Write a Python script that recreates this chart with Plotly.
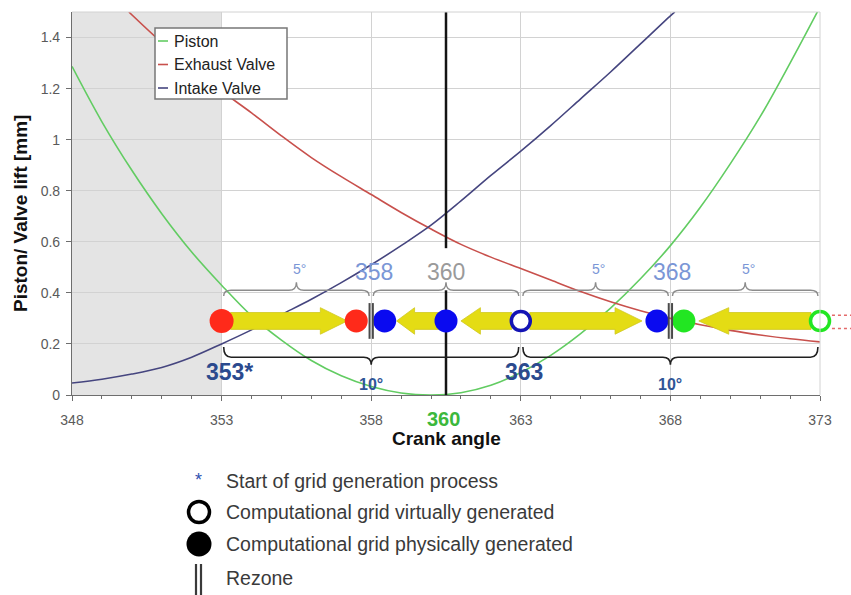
import plotly.graph_objects as go

FONT = "Liberation Sans, Arial, sans-serif"

# ---------------- data ----------------
crank = list(range(348, 374))
piston = [1.287, 1.07, 0.88, 0.71, 0.56, 0.43, 0.31, 0.215, 0.135, 0.075, 0.033, 0.008, 0.0,
          0.009, 0.038, 0.088, 0.155, 0.24, 0.34, 0.455, 0.585, 0.735, 0.905, 1.09, 1.30, 1.52]

exhaust_x = [349.9] + list(range(351, 374))
exhaust = [1.5, 1.38, 1.28, 1.19, 1.105, 1.015, 0.93, 0.855, 0.785, 0.715, 0.65, 0.59, 0.54,
           0.495, 0.45, 0.405, 0.365, 0.33, 0.30, 0.275, 0.253, 0.235, 0.22, 0.208]

intake_x = list(range(348, 369)) + [368.15]
intake = [0.047, 0.062, 0.082, 0.108, 0.148, 0.2, 0.255, 0.315, 0.375, 0.44, 0.51, 0.585, 0.665,
          0.76, 0.86, 0.955, 1.055, 1.16, 1.265, 1.375, 1.485, 1.5]

series_names = ["Piston", "Exhaust Valve", "Intake Valve"]
series_colors = ["#62cc62", "#c8504c", "#45457f"]

# grid-generation events (crank angle)
event_y = 0.29
marker_x = [353, 357.5, 358.45, 360.5, 363, 367.55, 368.45, 373]
marker_color = ["#ff2a1a", "#ff2a1a", "#0a0af0", "#0a0af0", "#1414b4", "#0a0af0", "#22e622", "#22e622"]
marker_filled = [True, True, True, True, False, True, True, False]

arrow_tail = [353.3, 360.3, 362.7, 363.3, 372.7]
arrow_tip = [357.2, 358.85, 361.0, 367.05, 368.95]
arrow_head = [0.9, 0.6, 0.65, 0.9, 1.0]

rezone_x = [358, 368]
tdc_x = 360.5

top_braces = [(353, 358), (358, 363), (363, 368), (368, 373)]
top_brace_labels = ["5°", "", "5°", "5°"]
bottom_braces = [(353, 363), (363, 373)]
bottom_brace_labels = ["10°", "10°"]
start_labels = [(353.25, "353*"), (363.1, "363"), (373.25, "373")]
upper_numbers = [(358.1, "358", "#7a96d6"), (360.5, "360", "#9a9a9a"), (368.05, "368", "#7a96d6")]

legend_items = ["Start of grid generation process",
                "Computational grid virtually generated",
                "Computational grid physically generated",
                "Rezone"]

# ---------------- figure ----------------
fig = go.Figure()

for xs, ys, c in zip([crank, exhaust_x, intake_x], [piston, exhaust, intake], series_colors):
    fig.add_trace(go.Scatter(x=xs, y=ys, mode="lines", line=dict(color=c, width=1.6, shape="spline"),
                             hoverinfo="skip"))

# yellow arrows
h_shaft, h_head = 0.033, 0.052
for t0, t1, hl in zip(arrow_tail, arrow_tip, arrow_head):
    s = 1 if t1 > t0 else -1
    b = t1 - s * hl
    xs = [t0, b, b, t1, b, b, t0, t0]
    ys = [event_y + h_shaft, event_y + h_shaft, event_y + h_head, event_y,
          event_y - h_head, event_y - h_shaft, event_y - h_shaft, event_y + h_shaft]
    fig.add_trace(go.Scatter(x=xs, y=ys, mode="lines", fill="toself", fillcolor="#e4dc14",
                             line=dict(color="#cfc820", width=0.8), hoverinfo="skip"))

# TDC black line (interrupted by label)
fig.add_trace(go.Scatter(x=[tdc_x, tdc_x, None, tdc_x, tdc_x], y=[1.5, 0.575, None, 0.41, 0],
                         mode="lines", line=dict(color="#141414", width=2.5), hoverinfo="skip"))

# event markers
fig.add_trace(go.Scatter(
    x=marker_x, y=[event_y] * len(marker_x), mode="markers", cliponaxis=False, opacity=1,
    marker=dict(symbol="circle", opacity=1,
                size=[24 if i == 0 else (19 if not f else 23) for i, f in enumerate(marker_filled)],
                color=[c if f else "white" for c, f in zip(marker_color, marker_filled)],
                line=dict(color=[c for c in marker_color],
                          width=[0 if f else 3.5 for f in marker_filled])),
    hoverinfo="skip"))

shapes = []
# grey region (before start)
shapes.append(dict(type="rect", xref="x", yref="paper", x0=348, x1=353, y0=0, y1=1,
                   fillcolor="#e4e4e4", line=dict(width=0), layer="below"))
# top / right border
shapes.append(dict(type="line", xref="paper", yref="paper", x0=0, x1=1, y0=1, y1=1,
                   line=dict(color="#d2d2d2", width=1)))
shapes.append(dict(type="line", xref="paper", yref="paper", x0=1, x1=1, y0=0, y1=1,
                   line=dict(color="#d2d2d2", width=1)))


def brace(x0, x1, y, tip, peak, e=0.25):
    xm = (x0 + x1) / 2
    return (f"M {x0},{y + tip} Q {x0},{y} {x0 + e},{y} L {xm - e},{y} Q {xm},{y} {xm},{y + peak} "
            f"Q {xm},{y} {xm + e},{y} L {x1 - e},{y} Q {x1},{y} {x1},{y + tip}")


for a, b in top_braces:
    shapes.append(dict(type="path", xref="x", yref="y", path=brace(a + 0.07, b - 0.07, 0.41, -0.022, 0.032),
                       line=dict(color="#8c8c8c", width=1.4)))
for a, b in bottom_braces:
    shapes.append(dict(type="path", xref="x", yref="y", path=brace(a + 0.07, b - 0.07, 0.148, 0.04, -0.03),
                       line=dict(color="#202020", width=1.6)))

# rezone marks
for rx in rezone_x:
    for dx in (-0.055, 0.055):
        shapes.append(dict(type="line", xref="x", yref="y", x0=rx + dx, x1=rx + dx, y0=0.22, y1=0.36,
                           line=dict(color="#4a4a4a", width=2)))

# red dotted lines leaving the plot on the right
for yy in (0.312, 0.26):
    shapes.append(dict(type="line", xref="paper", yref="paper", x0=1.016, x1=1.045, y0=yy / 1.5, y1=yy / 1.5,
                       line=dict(color="#e46a6a", width=1.5, dash="dot")))

# inner legend box
PW, PH, L0, T0 = 748.0, 383.0, 72.0, 12.0


def px(xp):
    return (xp - L0) / PW


def py(yp):
    return (395.0 - yp) / PH


shapes.append(dict(type="rect", xref="paper", yref="paper", x0=px(155), x1=px(287), y0=py(99), y1=py(28),
                   fillcolor="white", line=dict(color="#777777", width=1.5)))
annotations = []
for i, (n, c) in enumerate(zip(series_names, series_colors)):
    yy = py(41 + i * 23.5)
    shapes.append(dict(type="line", xref="paper", yref="paper", x0=px(158), x1=px(168), y0=yy, y1=yy,
                       line=dict(color=c, width=1.6)))
    annotations.append(dict(xref="paper", yref="paper", x=px(172), y=yy, text=n, showarrow=False,
                            xanchor="left", yanchor="middle", font=dict(size=16, color="#222222")))

# brace labels
for (a, b), t in zip(top_braces, top_brace_labels):
    if t:
        annotations.append(dict(xref="x", yref="y", x=(a + b) / 2 + 0.1, y=0.495, text=t, showarrow=False,
                                font=dict(size=14, color="#7a96d6")))
for (a, b), t in zip(bottom_braces, bottom_brace_labels):
    annotations.append(dict(xref="x", yref="y", x=(a + b) / 2, y=0.04, text="<b>" + t + "</b>", showarrow=False,
                            font=dict(size=16, color="#2f5597")))
for xv, t in start_labels:
    annotations.append(dict(xref="x", yref="y", x=xv, y=0.09, text="<b>" + t + "</b>", showarrow=False,
                            font=dict(size=23, color="#2b4a8e")))
for xv, t, c in upper_numbers:
    annotations.append(dict(xref="x", yref="y", x=xv, y=0.482, text=t, showarrow=False,
                            font=dict(size=23, color=c)))

# green TDC label under the axis
annotations.append(dict(xref="x", yref="paper", x=360.4, y=py(419), text="<b>360</b>", showarrow=False,
                        yanchor="middle", font=dict(size=20, color="#3cb83c")))
# axis titles
annotations.append(dict(xref="paper", yref="paper", x=px(446), y=py(439), text="<b>Crank angle</b>",
                        showarrow=False, yanchor="middle", font=dict(size=19, color="#111111")))
annotations.append(dict(xref="paper", yref="paper", x=px(20), y=py(214), text="<b>Piston/ Valve lift [mm]</b>",
                        showarrow=False, textangle=-90, xanchor="center", yanchor="middle",
                        font=dict(size=19, color="#111111")))

# bottom legend
rows = [481, 512, 544, 578]
for t, r in zip(legend_items, rows):
    annotations.append(dict(xref="paper", yref="paper", x=px(224), y=py(r), text=t, showarrow=False,
                            xanchor="left", yanchor="middle", font=dict(size=19.5, color="#3a3a3a")))
annotations.append(dict(xref="paper", yref="paper", x=px(198), y=py(480), text="*", showarrow=False,
                        xanchor="center", yanchor="middle", font=dict(size=18, color="#3050b0")))
shapes.append(dict(type="circle", xref="paper", yref="paper", xsizemode="pixel", ysizemode="pixel",
                   xanchor=px(199), yanchor=py(512), x0=-10.5, x1=10.5, y0=-10.5, y1=10.5,
                   fillcolor="white", line=dict(color="black", width=3.5)))
shapes.append(dict(type="circle", xref="paper", yref="paper", xsizemode="pixel", ysizemode="pixel",
                   xanchor=px(199), yanchor=py(544), x0=-12.5, x1=12.5, y0=-12.5, y1=12.5,
                   fillcolor="black", line=dict(color="black", width=0)))
for xx in (196, 201):
    shapes.append(dict(type="line", xref="paper", yref="paper", x0=px(xx), x1=px(xx), y0=py(564), y1=py(597),
                       line=dict(color="#3a3a3a", width=2.2)))

fig.update_layout(
    width=851, height=595, margin=dict(l=72, r=31, t=12, b=200),
    plot_bgcolor="white", paper_bgcolor="white", showlegend=False,
    font=dict(family=FONT),
    shapes=shapes, annotations=annotations,
    xaxis=dict(range=[348, 373], tick0=348, dtick=5, showgrid=True, gridcolor="#d2d2d2", gridwidth=1,
               showline=True, linecolor="#6e6e6e", linewidth=1.2, ticks="outside", ticklen=5,
               tickcolor="#6e6e6e", zeroline=False, ticklabelstandoff=7,
               tickfont=dict(size=14, color="#5a5a5a"),
               minor=dict(dtick=1, tick0=348, ticks="outside", ticklen=3, tickcolor="#6e6e6e", showgrid=False)),
    yaxis=dict(range=[0, 1.5], tick0=0, dtick=0.2, showgrid=True, gridcolor="#d2d2d2", gridwidth=1,
               showline=True, linecolor="#6e6e6e", linewidth=1.2, ticks="outside", ticklen=5,
               tickcolor="#6e6e6e", zeroline=False, ticklabelstandoff=3,
               tickfont=dict(size=14, color="#5a5a5a")),
)

fig.write_html("out.html")
